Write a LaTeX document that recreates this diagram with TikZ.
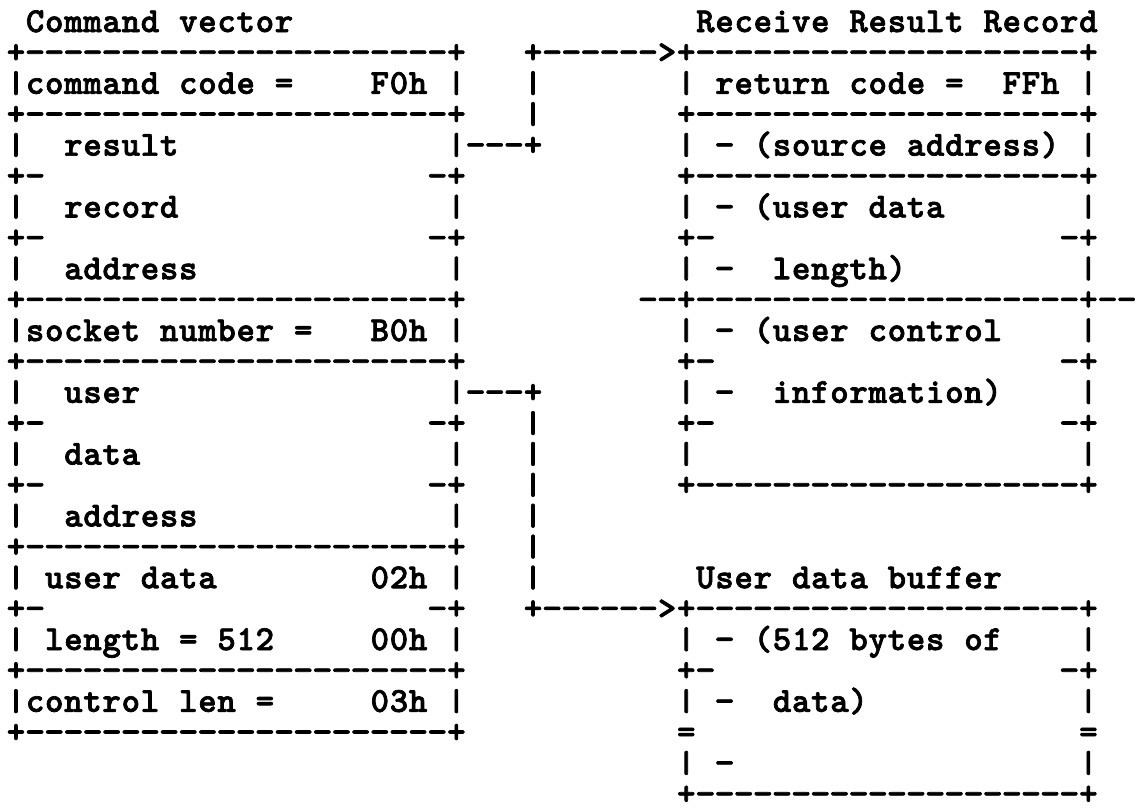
\documentclass[tikz,border=0pt]{standalone}
\usepackage{graphicx}
\font\asciifont="[lmmonolt10-bold.otf]:embolden=2" at 35pt
\newlength\cw \setlength\cw{19.15pt}
\newsavebox\barbox
\def\ascbar{\sbox\barbox{|}\raisebox{\dimexpr(\ht\barbox-\dp\barbox)*12/200\relax}{\scalebox{1}[0.88]{\usebox\barbox}}}
\def\ascchar#1{\makebox[\cw]{\if.#1\else\if-#1\scalebox{1.1}[1]{-}\else\if|#1\ascbar\else#1\fi\fi\fi}}
\def\ascloop#1{\ifx\relax#1\else\ascchar{#1}\expandafter\ascloop\fi}
\def\asc#1{\ascloop#1\relax}
\tikzset{
  asc/.style={inner sep=0pt, outer sep=0pt, anchor=base west, font=\asciifont}
}
\begin{document}
\begin{tikzpicture}[x=1pt,y=-1pt]
\fill[white] (0,0) rectangle (1135,809);
\useasboundingbox (0,0) rectangle (1135,809);
\def\xL{6.4}
\def\xC{466.0}
\def\xR{676.7}
% left column: Command vector
\node[asc] (L0)  at (\xL,{32+30.9*0})  {\asc{.Command.vector}};
\node[asc] (L1)  at (\xL,{32+30.9*1})  {\asc{+----------------------+}};
\node[asc] (L2)  at (\xL,{32+30.9*2})  {\asc{|command.code.=....F0h.|}};
\node[asc] (L3)  at (\xL,{32+30.9*3})  {\asc{+----------------------+}};
\node[asc] (L4)  at (\xL,{32+30.9*4})  {\asc{|..result..............|}};
\node[asc] (L5)  at (\xL,{32+30.9*5})  {\asc{+-....................-+}};
\node[asc] (L6)  at (\xL,{32+30.9*6})  {\asc{|..record..............|}};
\node[asc] (L7)  at (\xL,{32+30.9*7})  {\asc{+-....................-+}};
\node[asc] (L8)  at (\xL,{32+30.9*8})  {\asc{|..address.............|}};
\node[asc] (L9)  at (\xL,{32+30.9*9})  {\asc{+----------------------+}};
\node[asc] (L10) at (\xL,{32+30.9*10}) {\asc{|socket.number.=...B0h.|}};
\node[asc] (L11) at (\xL,{32+30.9*11}) {\asc{+----------------------+}};
\node[asc] (L12) at (\xL,{32+30.9*12}) {\asc{|..user................|}};
\node[asc] (L13) at (\xL,{32+30.9*13}) {\asc{+-....................-+}};
\node[asc] (L14) at (\xL,{32+30.9*14}) {\asc{|..data................|}};
\node[asc] (L15) at (\xL,{32+30.9*15}) {\asc{+-....................-+}};
\node[asc] (L16) at (\xL,{32+30.9*16}) {\asc{|..address.............|}};
\node[asc] (L17) at (\xL,{32+30.9*17}) {\asc{+----------------------+}};
\node[asc] (L18) at (\xL,{32+30.9*18}) {\asc{|.user.data........02h.|}};
\node[asc] (L19) at (\xL,{32+30.9*19}) {\asc{+-....................-+}};
\node[asc] (L20) at (\xL,{32+30.9*20}) {\asc{|.length.=.512.....00h.|}};
\node[asc] (L21) at (\xL,{32+30.9*21}) {\asc{+----------------------+}};
\node[asc] (L22) at (\xL,{32+30.9*22}) {\asc{|control.len.=.....03h.|}};
\node[asc] (L23) at (\xL,{32+30.9*23}) {\asc{+----------------------+}};
% connectors
\node[asc] (C1)  at (\xC,{32+30.9*1})  {\asc{...+------>}};
\node[asc] (C2)  at (\xC,{32+30.9*2})  {\asc{...|}};
\node[asc] (C3)  at (\xC,{32+30.9*3})  {\asc{...|}};
\node[asc] (C4)  at (\xC,{32+30.9*4})  {\asc{---+}};
\node[asc] (C9)  at (\xC,{32+30.9*9})  {\asc{.........--}};
\node[asc] (C12) at (\xC,{32+30.9*12}) {\asc{---+}};
\node[asc] (C13) at (\xC,{32+30.9*13}) {\asc{...|}};
\node[asc] (C14) at (\xC,{32+30.9*14}) {\asc{...|}};
\node[asc] (C15) at (\xC,{32+30.9*15}) {\asc{...|}};
\node[asc] (C16) at (\xC,{32+30.9*16}) {\asc{...|}};
\node[asc] (C17) at (\xC,{32+30.9*17}) {\asc{...|}};
\node[asc] (C18) at (\xC,{32+30.9*18}) {\asc{...|}};
\node[asc] (C19) at (\xC,{32+30.9*19}) {\asc{...+------>}};
% right column: Receive Result Record
\node[asc] (R0)  at (\xR,{32+30.9*0})  {\asc{.Receive.Result.Record}};
\node[asc] (R1)  at (\xR,{32+30.9*1})  {\asc{+--------------------+}};
\node[asc] (R2)  at (\xR,{32+30.9*2})  {\asc{|.return.code.=..FFh.|}};
\node[asc] (R3)  at (\xR,{32+30.9*3})  {\asc{+--------------------+}};
\node[asc] (R4)  at (\xR,{32+30.9*4})  {\asc{|.-.(source.address).|}};
\node[asc] (R5)  at (\xR,{32+30.9*5})  {\asc{+--------------------+}};
\node[asc] (R6)  at (\xR,{32+30.9*6})  {\asc{|.-.(user.data.......|}};
\node[asc] (R7)  at (\xR,{32+30.9*7})  {\asc{+-..................-+}};
\node[asc] (R8)  at (\xR,{32+30.9*8})  {\asc{|.-..length).........|}};
\node[asc] (R9)  at (\xR,{32+30.9*9})  {\asc{+--------------------+--}};
\node[asc] (R10) at (\xR,{32+30.9*10}) {\asc{|.-.(user.control....|}};
\node[asc] (R11) at (\xR,{32+30.9*11}) {\asc{+-..................-+}};
\node[asc] (R12) at (\xR,{32+30.9*12}) {\asc{|.-..information)....|}};
\node[asc] (R13) at (\xR,{32+30.9*13}) {\asc{+-..................-+}};
\node[asc] (R14) at (\xR,{32+30.9*14}) {\asc{|....................|}};
\node[asc] (R15) at (\xR,{32+30.9*15}) {\asc{+--------------------+}};
% right column: User data buffer
\node[asc] (R18) at (\xR,{32+30.9*18}) {\asc{.User.data.buffer}};
\node[asc] (R19) at (\xR,{32+30.9*19}) {\asc{+--------------------+}};
\node[asc] (R20) at (\xR,{32+30.9*20}) {\asc{|.-.(512.bytes.of....|}};
\node[asc] (R21) at (\xR,{32+30.9*21}) {\asc{+-..................-+}};
\node[asc] (R22) at (\xR,{32+30.9*22}) {\asc{|.-..data)...........|}};
\node[asc] (R23) at (\xR,{32+30.9*23}) {\asc{=....................=}};
\node[asc] (R24) at (\xR,{32+30.9*24}) {\asc{|.-..................|}};
\node[asc] (R25) at (\xR,{32+30.9*25}) {\asc{+--------------------+}};
\end{tikzpicture}
\end{document}
